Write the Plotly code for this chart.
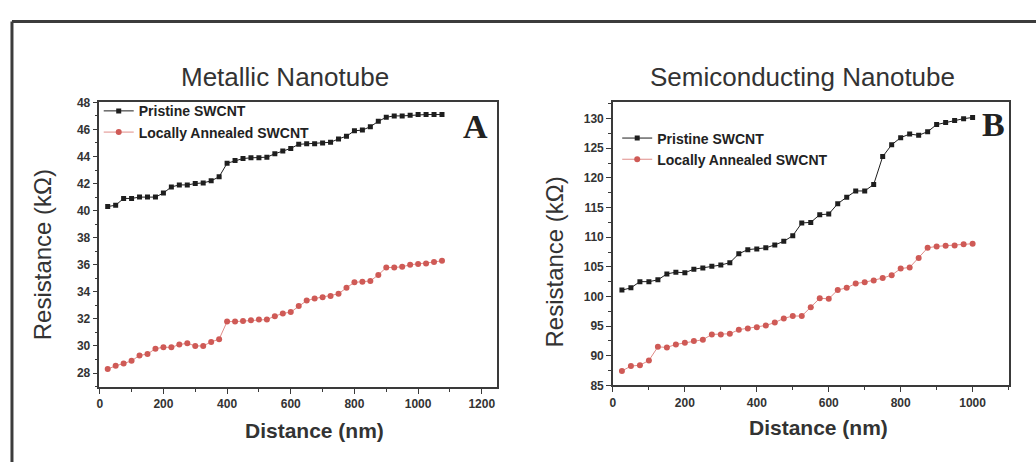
import plotly.graph_objects as go

# ---------------- data ----------------
dist_a = [25, 50, 75, 100, 125, 150, 175, 200, 225, 250, 275, 300, 325, 350, 375,
          400, 425, 450, 475, 500, 525, 550, 575, 600, 625, 650, 675, 700, 725, 750,
          775, 800, 825, 850, 875, 900, 925, 950, 975, 1000, 1025, 1050, 1075]
pristine_a = [40.3, 40.4, 40.9, 40.9, 41.0, 41.0, 41.0, 41.3, 41.75, 41.9,
              41.9, 42.0, 42.05, 42.2, 42.5, 43.5, 43.7, 43.85, 43.9, 43.9,
              43.95, 44.2, 44.4, 44.6, 44.9, 44.95, 44.95, 45.0, 45.05, 45.3,
              45.5, 45.9, 45.95, 46.2, 46.6, 46.9, 47.0, 47.0, 47.05, 47.1, 47.1, 47.1, 47.1]
annealed_a = [28.29, 28.53, 28.7, 28.9, 29.3, 29.4, 29.8, 29.9, 29.9, 30.1,
              30.2, 30.0, 30.0, 30.3, 30.5, 31.8, 31.8, 31.85, 31.9, 31.95,
              31.95, 32.2, 32.4, 32.5, 32.95, 33.35, 33.5, 33.6, 33.7, 33.85,
              34.3, 34.7, 34.75, 34.8, 35.25, 35.8, 35.8, 35.85, 36.0, 36.05, 36.1, 36.2, 36.3]

dist_b = [25, 50, 75, 100, 125, 150, 175, 200, 225, 250, 275, 300, 325, 350, 375,
          400, 425, 450, 475, 500, 525, 550, 575, 600, 625, 650, 675, 700, 725, 750,
          775, 800, 825, 850, 875, 900, 925, 950, 975, 1000]
pristine_b = [101.07, 101.45, 102.5, 102.5, 102.8, 103.8, 104.1, 104.0, 104.6, 104.8,
              105.1, 105.3, 105.7, 107.2, 107.9, 108.0, 108.2, 108.7, 109.3, 110.25,
              112.4, 112.5, 113.8, 113.9, 115.65, 116.75, 117.8, 117.8, 118.9, 123.6,
              125.6, 126.8, 127.4, 127.2, 127.8, 129.0, 129.35, 129.7, 130.0, 130.2]
annealed_b = [87.43, 88.25, 88.4, 89.2, 91.5, 91.4, 91.9, 92.2, 92.5, 92.7,
              93.6, 93.6, 93.7, 94.4, 94.6, 94.8, 95.1, 95.6, 96.3, 96.7,
              96.7, 98.2, 99.7, 99.6, 101.1, 101.45, 102.2, 102.4, 102.7, 103.1,
              103.6, 104.7, 104.9, 106.5, 108.2, 108.45, 108.55, 108.6, 108.8, 108.9]

series_names = ["Pristine SWCNT", "Locally Annealed SWCNT"]
panel_titles = ["Metallic Nanotube", "Semiconducting Nanotube"]
panel_letters = ["A", "B"]
x_title = "Distance (nm)"
y_title = "Resistance (kΩ)"

# ---------------- style ----------------
W, H = 1036, 469
BLACK = "#1e1e1e"
RED = "#cf5a56"
RED_LINE = "#e08c88"
AX = "#3a3a3a"
SANS = "Arial, Liberation Sans, sans-serif"
SERIF = "Times New Roman, Liberation Serif, serif"

def px_x(p):
    return p / W

def px_y(p):
    return 1 - p / H

fig = go.Figure()

def add_pair(xs, p, a, xa, ya, leg):
    fig.add_trace(go.Scatter(x=xs, y=p, name=series_names[0], mode="lines+markers",
                             xaxis=xa, yaxis=ya, legend=leg,
                             line=dict(color=BLACK, width=1),
                             marker=dict(symbol="square", size=5, color=BLACK)))
    fig.add_trace(go.Scatter(x=xs, y=a, name=series_names[1], mode="lines+markers",
                             xaxis=xa, yaxis=ya, legend=leg,
                             line=dict(color=RED_LINE, width=1),
                             marker=dict(symbol="circle", size=6, color=RED)))

add_pair(dist_a, pristine_a, annealed_a, "x", "y", "legend")
add_pair(dist_b, pristine_b, annealed_b, "x2", "y2", "legend2")

tickfont = dict(family=SANS, size=12, color="#333333", weight="bold")
common_axis = dict(showline=True, linecolor=AX, linewidth=1.5, mirror=True,
                   ticks="outside", ticklen=5, tickwidth=1, tickcolor=AX,
                   showgrid=False, zeroline=False, tickfont=tickfont)

fig.update_layout(
    width=W, height=H,
    margin=dict(l=0, r=0, t=0, b=0),
    paper_bgcolor="white", plot_bgcolor="white",
    showlegend=True,
    xaxis=dict(domain=[px_x(96.7), px_x(495.5)], range=[-1, 1248], anchor="y",
               dtick=200, tick0=0,
               minor=dict(dtick=100, ticklen=3, ticks="outside", tickcolor=AX),
               **common_axis),
    yaxis=dict(domain=[px_y(391.5), px_y(98.3)], range=[26.98, 48.0], anchor="x",
               dtick=2, tick0=28,
               minor=dict(dtick=1, ticklen=3, ticks="outside", tickcolor=AX),
               **common_axis),
    xaxis2=dict(domain=[px_x(611.7), px_x(1008.5)], range=[0, 1100], anchor="y2",
                dtick=200, tick0=0,
                minor=dict(dtick=100, ticklen=3, ticks="outside", tickcolor=AX),
                **common_axis),
    yaxis2=dict(domain=[px_y(390.0), px_y(98.3)], range=[85, 132.75], anchor="x2",
                dtick=5, tick0=85,
                minor=dict(dtick=2.5, ticklen=3, ticks="outside", tickcolor=AX),
                **common_axis),
    legend=dict(x=px_x(96), y=px_y(91), xanchor="left", yanchor="top",
                bgcolor="rgba(0,0,0,0)", borderwidth=0,
                font=dict(family=SANS, size=14, color="#222222", weight="bold"),
                tracegroupgap=0, itemwidth=30),
    legend2=dict(x=px_x(616), y=px_y(119), xanchor="left", yanchor="top",
                 bgcolor="rgba(0,0,0,0)", borderwidth=0,
                 font=dict(family=SANS, size=14, color="#222222", weight="bold"),
                 tracegroupgap=0, itemwidth=30),
)

annotations = [
    dict(text=panel_titles[0], x=px_x(283), y=px_y(72), font=dict(family=SANS, size=26, color="#333333")),
    dict(text=panel_titles[1], x=px_x(802), y=px_y(72), font=dict(family=SANS, size=26, color="#333333")),
    dict(text=x_title, x=px_x(312), y=px_y(437), font=dict(family=SANS, size=21, color="#333333", weight="bold")),
    dict(text=x_title, x=px_x(818), y=px_y(433), font=dict(family=SANS, size=21, color="#333333", weight="bold")),
    dict(text=y_title, x=px_x(40), y=px_y(255), textangle=-90, font=dict(family=SANS, size=24, color="#333333")),
    dict(text=y_title, x=px_x(553), y=px_y(263), textangle=-90, font=dict(family=SANS, size=24, color="#333333")),
    dict(text=panel_letters[0], x=px_x(474), y=px_y(123), font=dict(family=SERIF, size=34, color="#222222", weight="bold")),
    dict(text=panel_letters[1], x=px_x(993), y=px_y(121), font=dict(family=SERIF, size=34, color="#222222", weight="bold")),
]
for a in annotations:
    a.update(xref="paper", yref="paper", showarrow=False, xanchor="center", yanchor="middle")
fig.update_layout(annotations=annotations)

# outer frame (top and left edges)
fig.add_shape(type="line", xref="paper", yref="paper", x0=px_x(9), x1=1.0, y0=px_y(15), y1=px_y(15),
              line=dict(color="#3c3c3c", width=3))
fig.add_shape(type="line", xref="paper", yref="paper", x0=px_x(9), x1=px_x(9), y0=px_y(15), y1=0,
              line=dict(color="#3c3c3c", width=3))

fig.write_html("out.html", config={"displayModeBar": False},
               post_script="document.body.style.margin='0px';document.body.style.overflow='hidden';")
